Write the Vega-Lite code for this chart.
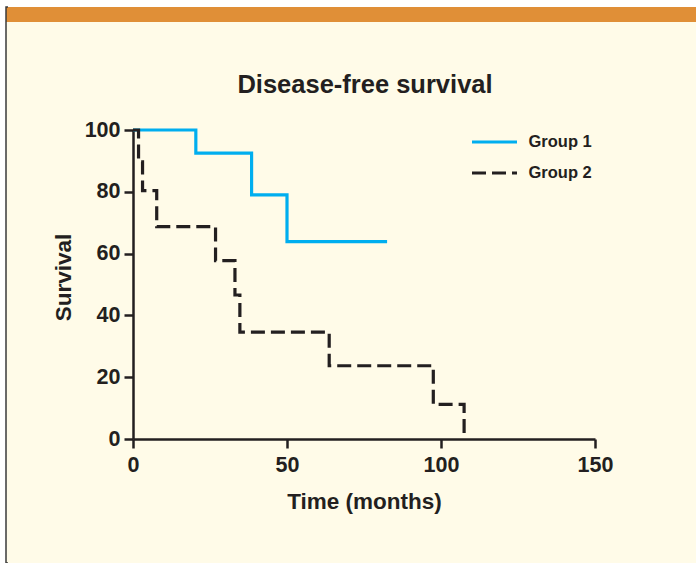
{
  "$schema": "https://vega.github.io/schema/vega-lite/v6.json",
  "width": 690,
  "height": 556,
  "autosize": {"type": "none"},
  "padding": {"left": 6, "top": 7, "right": 0, "bottom": 0},
  "background": "white",
  "title": {
    "text": "Disease-free survival",
    "fontSize": 25.5,
    "font": "Liberation Sans",
    "fontWeight": "bold",
    "color": "#231F20",
    "anchor": "middle",
    "frame": "group",
    "dx": 14,
    "offset": -111,
    "baseline": "alphabetic"
  },
  "view": {
    "fill": {
      "gradient": "linear", "x1": 0, "y1": 0, "x2": 0, "y2": 1,
      "stops": [
        {"offset": 0, "color": "#E08F37"},
        {"offset": 0.027, "color": "#E08F37"},
        {"offset": 0.027, "color": "#FFFBE8"},
        {"offset": 1, "color": "#FFFBE8"}
      ]
    },
    "stroke": {
      "gradient": "linear", "x1": 0, "y1": 0, "x2": 1, "y2": 0,
      "stops": [
        {"offset": 0, "color": "#3a3a3a"},
        {"offset": 0.003, "color": "#3a3a3a"},
        {"offset": 0.003, "color": "rgba(255,255,255,0)"},
        {"offset": 1, "color": "rgba(255,255,255,0)"}
      ]
    },
    "strokeWidth": 1.5
  },
  "data": {
    "values": [
      {"group": "Group 1", "time": 0, "survival": 100},
      {"group": "Group 1", "time": 20.4, "survival": 92.5},
      {"group": "Group 1", "time": 38.5, "survival": 79.0},
      {"group": "Group 1", "time": 50.0, "survival": 63.9},
      {"group": "Group 1", "time": 82.5, "survival": 63.9},
      {"group": "Group 2", "time": 0, "survival": 100},
      {"group": "Group 2", "time": 1.8, "survival": 89.7},
      {"group": "Group 2", "time": 3.1, "survival": 80.4},
      {"group": "Group 2", "time": 7.7, "survival": 68.7},
      {"group": "Group 2", "time": 26.8, "survival": 57.7},
      {"group": "Group 2", "time": 33.1, "survival": 46.6},
      {"group": "Group 2", "time": 34.7, "survival": 34.6},
      {"group": "Group 2", "time": 63.7, "survival": 23.7},
      {"group": "Group 2", "time": 97.5, "survival": 11.2},
      {"group": "Group 2", "time": 107.5, "survival": 0}
    ]
  },
  "mark": {"type": "line", "interpolate": "step-after", "strokeWidth": 3.2},
  "encoding": {
    "x": {
      "field": "time",
      "type": "quantitative",
      "scale": {"domain": [0, 150], "range": [127, 589], "nice": false, "zero": false},
      "axis": {
        "orient": "bottom",
        "offset": -124,
        "values": [0, 50, 100, 150],
        "title": "Time (months)",
        "titlePadding": 15,
        "labelPadding": 6
      }
    },
    "y": {
      "field": "survival",
      "type": "quantitative",
      "scale": {"domain": [0, 100], "range": [432, 123], "nice": false, "zero": false},
      "axis": {
        "orient": "left",
        "offset": -127,
        "values": [0, 20, 40, 60, 80, 100],
        "title": "Survival",
        "titlePadding": 9,
        "titleY": 270,
        "labelPadding": 4
      }
    },
    "color": {
      "field": "group",
      "type": "nominal",
      "scale": {"domain": ["Group 1", "Group 2"], "range": ["#00AEEF", "#231F20"]},
      "legend": {
        "orient": "none",
        "legendX": 477,
        "legendY": 123.5,
        "title": null
      }
    },
    "strokeDash": {
      "field": "group",
      "type": "nominal",
      "scale": {"domain": ["Group 1", "Group 2"], "range": [[1, 0], [14, 6]]},
      "legend": null
    }
  },
  "config": {
    "axis": {
      "grid": false,
      "domainColor": "#231F20",
      "domainWidth": 2.5,
      "tickColor": "#231F20",
      "tickWidth": 2.5,
      "tickSize": 9,
      "labelFont": "Liberation Sans",
      "labelFontWeight": "bold",
      "labelFontSize": 21.5,
      "labelColor": "#231F20",
      "labelFlush": false,
      "labelOverlap": false,
      "titleFont": "Liberation Sans",
      "titleFontWeight": "bold",
      "titleFontSize": 22.5,
      "titleColor": "#231F20"
    },
    "legend": {
      "symbolType": "M-2.25,0H2.25",
      "symbolSize": 400,
      "symbolStrokeWidth": 3,
      "labelFont": "Liberation Sans",
      "labelFontWeight": "bold",
      "labelFontSize": 16.5,
      "labelColor": "#231F20",
      "labelOffset": 22.5,
      "padding": 0,
      "rowPadding": 11
    }
  }
}
